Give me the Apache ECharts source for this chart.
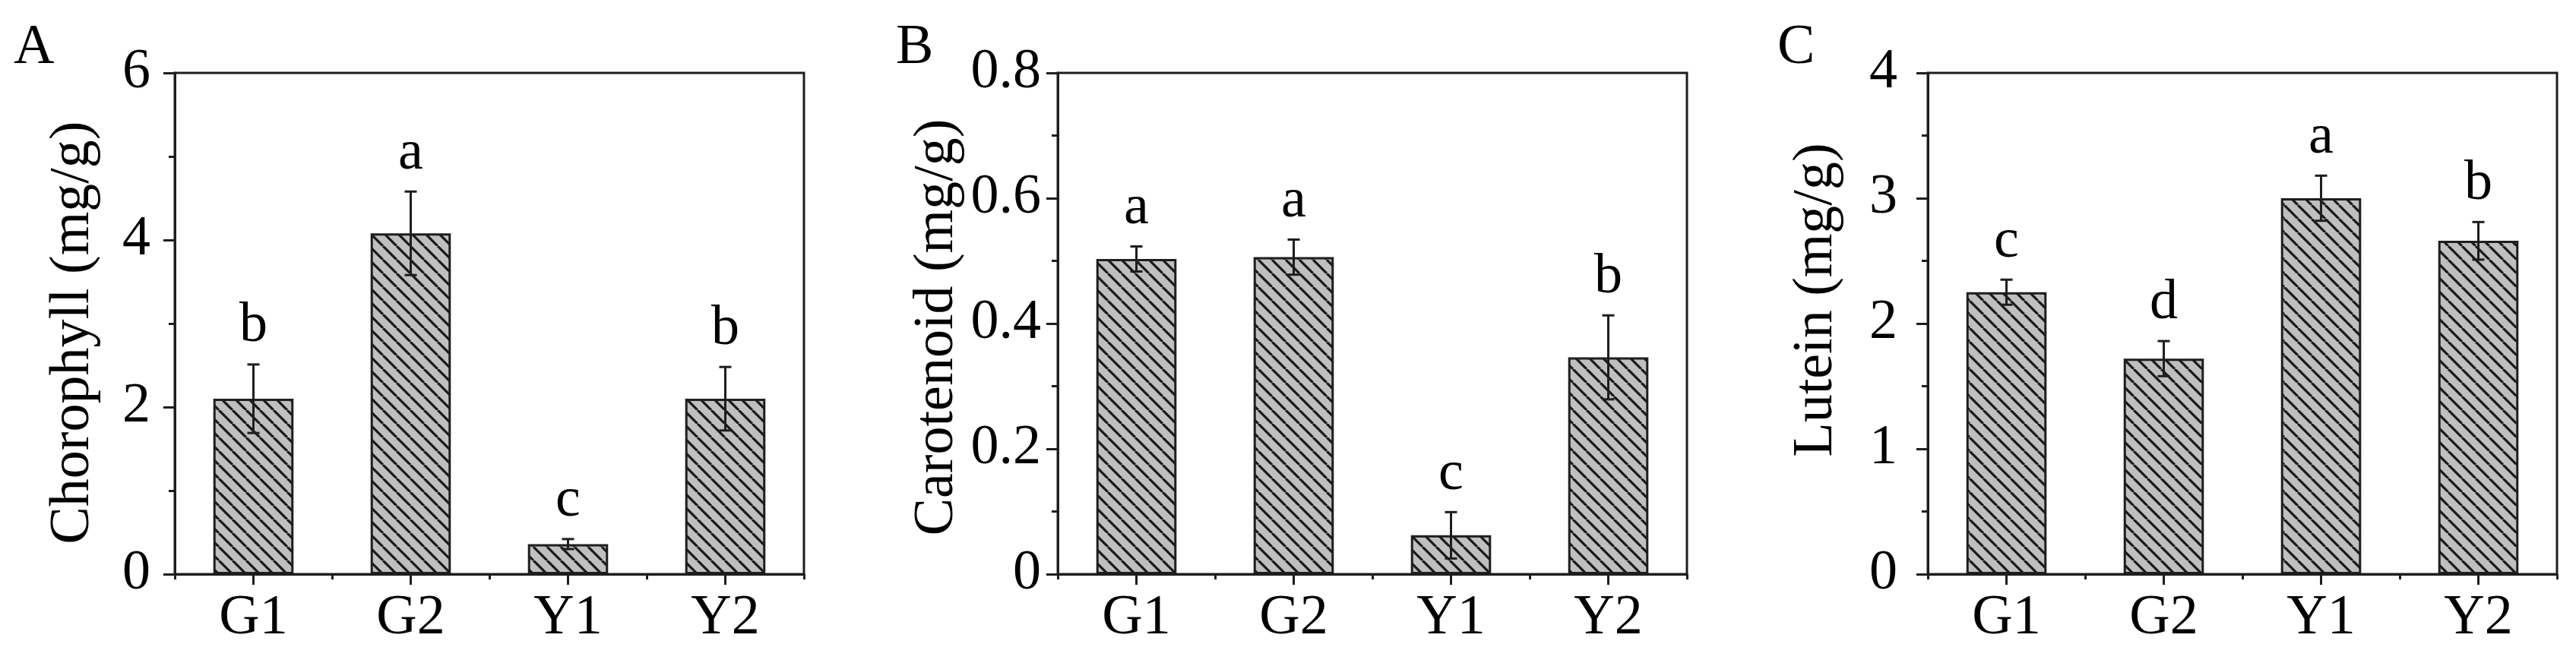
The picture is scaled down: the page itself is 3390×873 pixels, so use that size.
<!DOCTYPE html>
<html>
<head>
<meta charset="utf-8">
<script src="https://cdn.jsdelivr.net/npm/echarts@6/dist/echarts.min.js"></script>
<style>
html,body{margin:0;padding:0;background:#fff;}
#chart{width:3390px;height:873px;}
</style>
</head>
<body>
<div id="chart"></div>
<script>
// ---- data ----
var categories = ['G1', 'G2', 'Y1', 'Y2'];

var chlMean = [2.10, 4.08, 0.36, 2.10];
var chlErr  = [0.41, 0.50, 0.06, 0.38];
var chlSig  = ['b', 'a', 'c', 'b'];

var carMean = [0.503, 0.506, 0.062, 0.346];
var carErr  = [0.020, 0.028, 0.037, 0.067];
var carSig  = ['a', 'a', 'c', 'b'];

var lutMean = [2.25, 1.72, 3.00, 2.66];
var lutErr  = [0.10, 0.14, 0.18, 0.15];
var lutSig  = ['c', 'd', 'a', 'b'];

var panelLabels = ['A', 'B', 'C'];
var axisNames = ['Chorophyll (mg/g)', 'Carotenoid (mg/g)', 'Lutein (mg/g)'];
var yMax = [6, 0.8, 4];
var yInterval = [2, 0.2, 1];

// ---- layout / style ----
var FONT = '"Liberation Serif","Times New Roman",serif';
var gridLeft = [230, 1392, 2537];
var gridW = 828, gridTop = 96, gridH = 660;
var labelMargin = [32, 22, 40];
var nameGap = [96, 121, 109];
var namePad = [[0, 24, 0, 0], [0, 10, 0, 0], [0, 0, 0, 62]];
var panelLabelX = [18, 1179, 2339];
var LINE = '#1e1e1e';

function makeHatch() {
  var s = 18;
  var c = document.createElement('canvas');
  c.width = s; c.height = s;
  var ctx = c.getContext('2d');
  ctx.fillStyle = '#bfbfbf';
  ctx.fillRect(0, 0, s, s);
  ctx.strokeStyle = '#1a1a1a';
  ctx.lineWidth = 3.2;
  ctx.beginPath();
  for (var k = -1; k <= 1; k++) {
    ctx.moveTo(k * s, 0);
    ctx.lineTo(k * s + s, s);
  }
  ctx.stroke();
  return c;
}
var hatch = makeHatch();

var means = [chlMean, carMean, lutMean];
var errs = [chlErr, carErr, lutErr];
var sigs = [chlSig, carSig, lutSig];

var grids = [], xAxes = [], yAxes = [], series = [], graphics = [];

for (var p = 0; p < 3; p++) {
  grids.push({
    left: gridLeft[p], top: gridTop, width: gridW, height: gridH,
    show: true, borderColor: LINE, borderWidth: 3, backgroundColor: 'transparent',
    containLabel: false
  });
  // main x axis: ticks at category centers
  xAxes.push({
    type: 'category', gridIndex: p, data: categories, position: 'bottom',
    axisLine: {show: true, lineStyle: {color: LINE, width: 3}},
    axisTick: {show: true, alignWithLabel: true, length: 14, lineStyle: {color: LINE, width: 3}},
    axisLabel: {fontFamily: FONT, fontSize: 74, color: '#000', margin: 22},
    splitLine: {show: false}
  });
  // boundary ticks
  xAxes.push({
    type: 'category', gridIndex: p, data: categories, position: 'bottom',
    axisLine: {show: false},
    axisTick: {show: true, alignWithLabel: false, length: 7, lineStyle: {color: LINE, width: 3}},
    axisLabel: {show: false},
    splitLine: {show: false}
  });
  yAxes.push({
    type: 'value', gridIndex: p, min: 0, max: yMax[p], interval: yInterval[p],
    name: axisNames[p], nameLocation: 'middle', nameRotate: 90, nameGap: nameGap[p],
    nameTextStyle: {fontFamily: FONT, fontSize: 74, color: '#000', padding: namePad[p]},
    axisLine: {show: true, lineStyle: {color: LINE, width: 3}},
    axisTick: {show: true, inside: false, length: 15, lineStyle: {color: LINE, width: 3}},
    minorTick: {show: true, splitNumber: 2, length: 8, lineStyle: {color: LINE, width: 3}},
    axisLabel: {fontFamily: FONT, fontSize: 74, color: '#000', margin: labelMargin[p]},
    splitLine: {show: false},
    minorSplitLine: {show: false}
  });

  series.push({
    type: 'bar', xAxisIndex: p * 2, yAxisIndex: p,
    data: means[p], barWidth: '51%',
    itemStyle: {color: {image: hatch, repeat: 'repeat'}, borderColor: LINE, borderWidth: 3},
    silent: true, animation: false
  });

  (function (pi) {
    var eData = means[pi].map(function (m, i) { return [i, m, errs[pi][i]]; });
    series.push({
      type: 'custom', xAxisIndex: pi * 2, yAxisIndex: pi,
      data: eData, encode: {x: 0, y: 1}, clip: false, silent: true, animation: false, z: 5,
      renderItem: function (params, api) {
        var x = api.value(0), m = api.value(1), e = api.value(2);
        var top = api.coord([x, m + e]);
        var bot = api.coord([x, m - e]);
        var cap = 8;
        var st = {stroke: LINE, lineWidth: 3};
        return {
          type: 'group',
          children: [
            {type: 'line', shape: {x1: top[0], y1: top[1], x2: bot[0], y2: bot[1]}, style: st},
            {type: 'line', shape: {x1: top[0] - cap, y1: top[1], x2: top[0] + cap, y2: top[1]}, style: st},
            {type: 'line', shape: {x1: bot[0] - cap, y1: bot[1], x2: bot[0] + cap, y2: bot[1]}, style: st},
            {type: 'text', x: top[0], y: top[1] - 50,
              style: {text: sigs[pi][params.dataIndex], fontSize: 74, fontFamily: FONT, fill: '#000',
                align: 'center', verticalAlign: 'middle'}}
          ]
        };
      }
    });
  })(p);

  graphics.push({
    type: 'text', x: panelLabelX[p], y: 64,
    style: {text: panelLabels[p], fontSize: 74, fontFamily: FONT, fill: '#000', align: 'left', verticalAlign: 'middle'}
  });
}

var chart = echarts.init(document.getElementById('chart'), null, {renderer: 'canvas'});
chart.setOption({
  animation: false,
  backgroundColor: '#fff',
  grid: grids,
  xAxis: xAxes,
  yAxis: yAxes,
  series: series,
  graphic: graphics
});
</script>
</body>
</html>
